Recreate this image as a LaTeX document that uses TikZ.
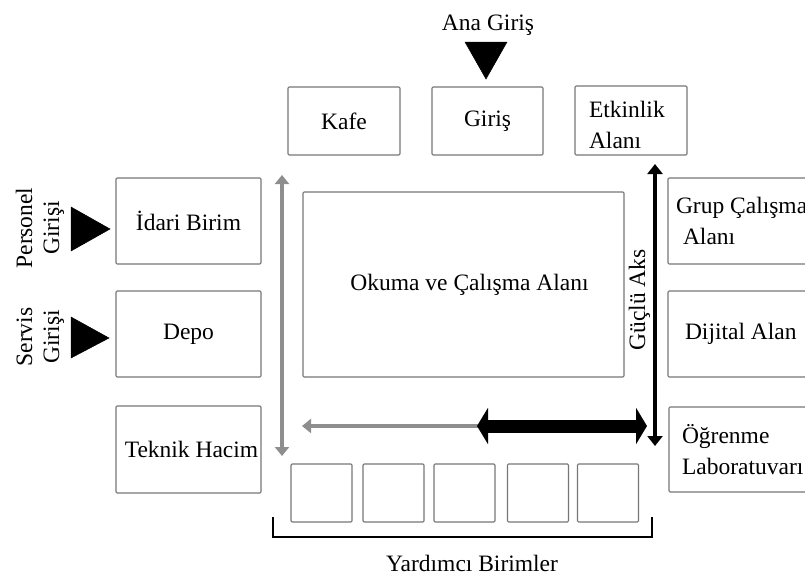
\documentclass[tikz,border=0pt]{standalone}
\usepackage{fontspec}
\setmainfont{Liberation Serif}
\usetikzlibrary{arrows.meta}
\definecolor{boxgray}{HTML}{767676}
\definecolor{arrgray}{HTML}{8E8E8E}
\tikzset{
  box/.style={draw=boxgray, line width=1.1pt, rounded corners=1.2pt, inner sep=0pt, outer sep=0pt,
    font=\fontsize{23.5}{31}\selectfont},
  lbl/.style={inner sep=0pt, font=\fontsize{23.5}{31}\selectfont},
  grayarrow/.style={draw=arrgray, line width=4pt, {Triangle[width=14pt,length=9pt]}-{Triangle[width=14pt,length=9pt]}},
  grayonearrow/.style={draw=arrgray, line width=4.5pt, -{Triangle[width=14pt,length=9pt]}},
  blackaxis/.style={draw=black, line width=4.5pt, {Triangle[width=15pt,length=10pt]}-{Triangle[width=15pt,length=10pt]}},
  thickaxis/.style={draw=black, line width=13pt, {Triangle[width=36pt,length=11pt]}-{Triangle[width=36pt,length=11pt]}},
  entry/.style={fill=black, draw=black, line width=0.5pt, line join=miter},
}
\begin{document}
\begin{tikzpicture}[x=1pt,y=-1pt]
\useasboundingbox (0,0) rectangle (805,576);
\clip (0,0) rectangle (805,576);
% top row
\node[box, minimum width=112pt, minimum height=68pt] (kafe) at (344,121) {Kafe};
\node[box, minimum width=111pt, minimum height=68pt] (giris) at (487.5,121) {Giriş};
\node[box, minimum width=112pt, minimum height=69pt, text width=84pt, align=flush left, inner xsep=14pt] (etkinlik) at (631,120.5) {\rule{0pt}{26pt}Etkinlik\\Alanı};
% left column
\node[box, minimum width=145pt, minimum height=86pt] (idari) at (188.5,221) {İdari Birim};
\node[box, minimum width=145pt, minimum height=86pt] (depo) at (188.5,334) {Depo};
\node[box, minimum width=145pt, minimum height=87pt] (teknik) at (188.5,449.5) {\hspace*{6pt}Teknik Hacim};
% center
\node[box, minimum width=321pt, minimum height=185pt] (okuma) at (463.5,284.5) {\hspace*{12pt}Okuma ve Çalışma Alanı};
% right column
\node[box, minimum width=152pt, minimum height=86pt, text width=136pt, align=flush left, inner xsep=8pt] (grup) at (744,221) {Grup Çalışma\\\hspace*{7pt}Alanı};
\node[box, minimum width=152pt, minimum height=86pt, text width=118pt, align=flush left, inner xsep=17pt] (dijital) at (744,334) {Dijital Alan};
\node[box, minimum width=152pt, minimum height=85pt, text width=126pt, align=flush left, inner xsep=13pt] (ogrenme) at (745,449.5) {Öğrenme\\Laboratuvarı};
% small squares
\node[box, minimum width=61pt, minimum height=58pt] (y1) at (321.5,493) {};
\node[box, minimum width=61pt, minimum height=58pt] (y2) at (393.5,493) {};
\node[box, minimum width=61pt, minimum height=58pt] (y3) at (464.5,493) {};
\node[box, minimum width=61pt, minimum height=58pt] (y4) at (538,493) {};
\node[box, minimum width=61pt, minimum height=58pt] (y5) at (608,493) {};
% bracket
\coordinate (br1) at (273,517);
\coordinate (br2) at (273,537);
\coordinate (br3) at (652,537);
\coordinate (br4) at (652,517);
\draw[line width=2.4pt, line join=miter] (br1) -- (br2) -- (br3) -- (br4);
\node[lbl, anchor=base] (yard) at (472,571) {Yardımcı Birimler};
% entries
\node[lbl, anchor=base] (ana) at (488,30) {Ana Giriş};
\fill[entry] (465,42) -- (507,42) -- (486,79) -- cycle;
\node[lbl, anchor=base, rotate=90] (pers1) at (32,228) {Personel};
\node[lbl, anchor=base, rotate=90] (pers2) at (59,228) {Girişi};
\fill[entry] (71,207) -- (71,251) -- (110,229) -- cycle;
\node[lbl, anchor=base, rotate=90] (serv1) at (32,337) {Servis};
\node[lbl, anchor=base, rotate=90] (serv2) at (59,337) {Girişi};
\fill[entry] (71,317) -- (71,358) -- (109,338) -- cycle;
% axes
\coordinate (gv1) at (282,175);
\coordinate (gv2) at (282,456);
\draw[grayarrow] (gv1) -- (gv2);
\coordinate (gh1) at (490,426);
\coordinate (gh2) at (302,426);
\draw[grayonearrow] (gh1) -- (gh2);
\coordinate (th1) at (477,426);
\coordinate (th2) at (647,426);
\draw[thickaxis] (th1) -- (th2);
\coordinate (bv1) at (655,164);
\coordinate (bv2) at (655,446);
\draw[blackaxis] (bv1) -- (bv2);
\node[lbl, anchor=base, rotate=90] (guclu) at (645,300) {Güçlü Aks};
\end{tikzpicture}
\end{document}
